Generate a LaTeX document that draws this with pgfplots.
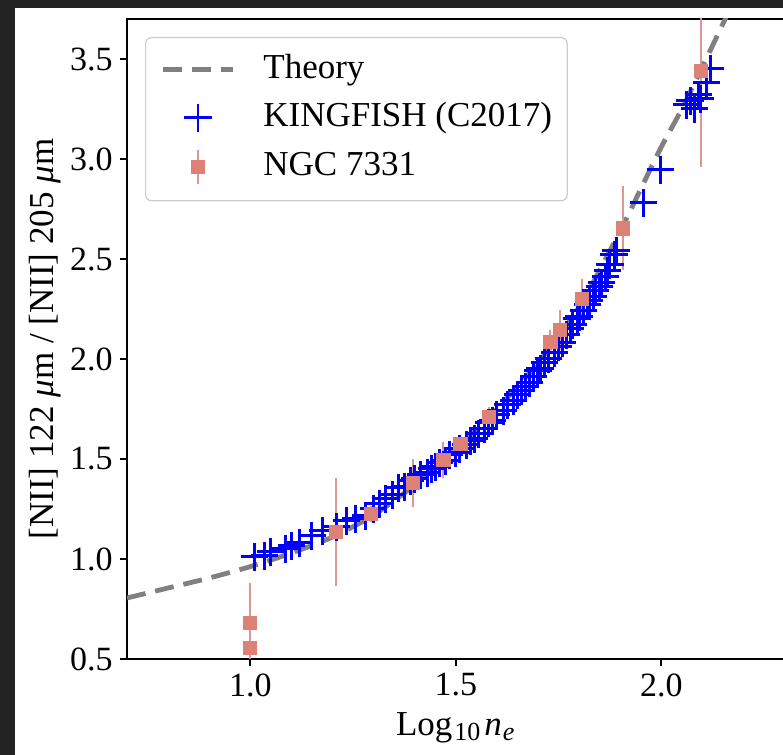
\documentclass[border=0pt]{standalone}
\usepackage{fontspec}
\setmainfont{Liberation Serif}
\usepackage{pgfplots}
\pgfplotsset{compat=1.18}
\usepackage{pgfplotstable}

\definecolor{bgdark}{RGB}{34,34,34}
\definecolor{ngcsq}{RGB}{221,128,118}
\definecolor{ngcbar}{RGB}{220,150,148}
\definecolor{theorygray}{RGB}{128,128,128}
\definecolor{legedge}{RGB}{204,204,204}

\pgfplotsset{
  legline/.style={legend image code/.code={\draw[##1] (0pt,0pt) -- (35pt,0pt);}},
  legmark/.style={legend image code/.code={\draw[mark repeat=2,mark phase=2,##1] plot coordinates {(0pt,0pt)(17.5pt,0pt)(35pt,0pt)};}},
  legbar/.style={legend image code/.code={\draw[ngcbar, line width=1pt] (17.5pt,-8.5pt) -- (17.5pt,8.5pt);
    \draw[mark repeat=2,mark phase=2,##1] plot coordinates {(0pt,0pt)(17.5pt,0pt)(35pt,0pt)};}},
}

\pgfplotstableread{
x y
0.70 0.805
0.80 0.855
0.90 0.905
1.00 0.962
1.10 1.03
1.20 1.11
1.30 1.22
1.40 1.37
1.50 1.55
1.60 1.75
1.70 1.98
1.80 2.26
1.90 2.64
1.95 2.85
2.00 3.06
2.05 3.25
2.10 3.46
2.16 3.72
}\theorytab

\pgfplotstableread{
x y
1.01 1.01
1.035 1.015
1.05 1.035
1.085 1.05
1.10 1.065
1.12 1.08
1.15 1.115
1.175 1.14
1.21 1.16
1.235 1.19
1.255 1.20
1.28 1.215
1.30 1.25
1.315 1.275
1.33 1.30
1.345 1.32
1.36 1.355
1.375 1.36
1.39 1.39
1.40 1.40
1.415 1.42
1.43 1.43
1.44 1.45
1.45 1.46
1.46 1.48
1.475 1.49
1.485 1.52
1.50 1.53
1.51 1.55
1.525 1.57
1.535 1.59
1.545 1.60
1.555 1.625
1.57 1.65
1.58 1.68
1.59 1.69
1.60 1.72
1.615 1.74
1.625 1.77
1.64 1.79
1.65 1.82
1.66 1.84
1.67 1.86
1.68 1.88
1.69 1.91
1.70 1.94
1.705 1.95
1.715 1.98
1.725 2.00
1.74 2.03
1.75 2.06
1.76 2.08
1.77 2.12
1.78 2.15
1.785 2.17
1.795 2.20
1.80 2.21
1.81 2.24
1.82 2.27
1.825 2.29
1.835 2.31
1.84 2.34
1.85 2.36
1.855 2.38
1.865 2.41
1.87 2.44
1.875 2.47
1.885 2.52
1.89 2.54
1.957 2.78
1.998 2.945
2.062 3.27
2.07 3.29
2.08 3.25
2.09 3.32
2.095 3.30
2.11 3.38
2.12 3.45
}\kingtab

\pgfplotstableread{
x y e
1.000 0.680 0.20
1.000 0.555 0.12
1.209 1.135 0.27
1.294 1.225 0.04
1.396 1.380 0.12
1.470 1.495 0.09
1.511 1.575 0.04
1.580 1.710 0.05
1.730 2.087 0.06
1.754 2.145 0.10
1.807 2.300 0.10
1.906 2.653 0.21
2.097 3.440 0.48
}\ngctab

\begin{document}
\begin{tikzpicture}
\fill[bgdark] (-63.5pt,-48pt) rectangle (328pt,329.5pt);
\fill[white] (-56pt,-48pt) rectangle (328pt,325.5pt);
\begin{axis}[
  at={(0pt,0pt)}, anchor=south west,
  scale only axis, width=328.8pt, height=320pt,
  xmin=0.7, xmax=2.3, ymin=0.5, ymax=3.7,
  axis line style={black, line width=1pt},
  tick pos=left, tick align=outside, major tick length=3.5pt,
  tick style={black, line width=1pt},
  xtick={1.0,1.5,2.0}, ytick={0.5,1.0,1.5,2.0,2.5,3.0,3.5},
  /pgf/number format/assume math mode=true,
  /pgf/number format/.cd, fixed, fixed zerofill, precision=1, /pgfplots/.cd,
  ticklabel style={font=\fontsize{17}{20}\selectfont, inner sep=0pt},
  xticklabel style={anchor=north, yshift=-3.5pt},
  yticklabel style={anchor=east, xshift=-3.5pt},
  xlabel={Log\kern1pt\textsubscript{\fontsize{13}{13}\selectfont 10}\kern1.5pt\textit{n}\kern0.5pt\textsubscript{\fontsize{13}{13}\selectfont\itshape e}},
  ylabel={{[NII]} 122 \textit{μ}m / [NII] 205 \textit{μ}m},
  label style={font=\fontsize{17.5}{21}\selectfont},
  xlabel style={at={(axis description cs:0.5,-0.1188)}, anchor=base},
  ylabel style={at={(axis description cs:-0.1247,0.5)}, anchor=center},
  legend cell align=left,
  legend style={
    at={(axis description cs:0.0274,0.9719)}, anchor=north west,
    draw=legedge, line width=0.6pt, rounded corners=3pt, fill=white,
    inner xsep=7.5pt, inner ysep=7.8pt,
    row sep=7.5pt,
    font=\fontsize{17.5}{21}\selectfont,
    nodes={inner sep=0pt, text height=12.5pt, text depth=4pt},
    /tikz/every odd column/.append style={column sep=14pt},
  },
]
\addlegendimage{theorygray, line width=2.4pt, dash pattern=on 9.5pt off 5pt, legline}
\addlegendentry{Theory}
\addlegendimage{only marks, mark=+, blue, mark size=7pt, line width=1.4pt, legmark}
\addlegendentry{KINGFISH (C2017)}
\addlegendimage{only marks, mark=square*, ngcsq, mark size=3.3pt, mark options={fill=ngcsq, draw=ngcsq}, legbar}
\addlegendentry{NGC 7331}

\addplot[only marks, mark=+, blue, mark size=6.8pt, line width=1.5pt, forget plot] table[x=x,y=y] {\kingtab};
\addplot[theorygray, line width=2.4pt, dash pattern=on 9.5pt off 5pt, smooth, forget plot] table[x=x,y=y] {\theorytab};
\addplot[only marks, mark=square*, color=ngcsq, mark size=3.3pt, mark options={fill=ngcsq, draw=ngcsq}, forget plot,
  error bars/.cd, y dir=both, y explicit, error mark=none,
  error bar style={ngcbar, line width=1pt}]
  table[x=x, y=y, y error=e] {\ngctab};
\end{axis}
\pgfresetboundingbox
\path[use as bounding box] (-63.5pt,-48pt) rectangle (328pt,329.5pt);
\end{tikzpicture}
\end{document}
